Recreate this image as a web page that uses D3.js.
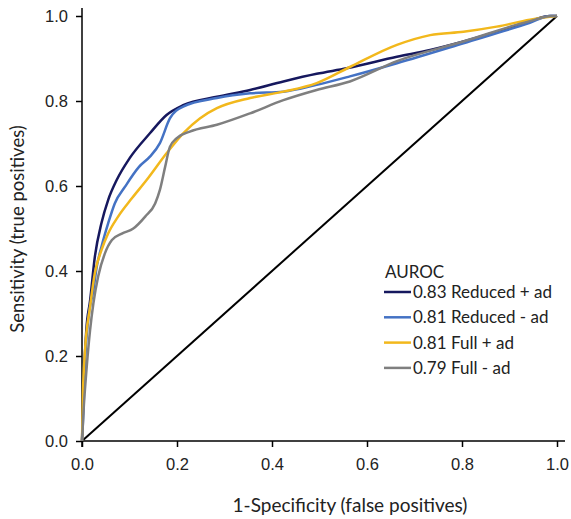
<!DOCTYPE html>
<html>
<head>
<meta charset="utf-8">
<script src="https://cdn.jsdelivr.net/npm/d3@7"></script>
<style>
  html, body { margin: 0; padding: 0; background: #fff; }
  svg { display: block; font-family: Lato, "Open Sans", sans-serif; }
</style>
</head>
<body>
<svg id="chart" width="571" height="519"></svg>
<script>
// ---- data ----
const xTicks = [0, 0.2, 0.4, 0.6, 0.8, 1.0];
const yTicks = [0, 0.2, 0.4, 0.6, 0.8, 1.0];

const seriesNames = ["0.83 Reduced + ad", "0.81 Reduced - ad", "0.81 Full + ad", "0.79 Full - ad"];
const seriesColors = ["#16185E", "#4472C4", "#F2B81C", "#7F7F7F"];

const fprReducedPlus = [0, 0.004, 0.009, 0.017, 0.027, 0.041, 0.055, 0.073, 0.10, 0.143, 0.178, 0.213, 0.284, 0.354, 0.424, 0.494, 0.557, 0.663, 0.733, 0.803, 0.873, 0.943, 0.985, 1.0];
const tprReducedPlus = [0, 0.15, 0.26, 0.33, 0.433, 0.513, 0.567, 0.614, 0.665, 0.724, 0.767, 0.79, 0.81, 0.826, 0.846, 0.864, 0.877, 0.904, 0.92, 0.94, 0.963, 0.988, 1.0, 1.0];

const fprReducedMinus = [0, 0.003, 0.006, 0.013, 0.024, 0.031, 0.041, 0.055, 0.069, 0.091, 0.12, 0.143, 0.164, 0.185, 0.213, 0.284, 0.354, 0.424, 0.494, 0.564, 0.663, 0.803, 0.943, 0.985, 1.0];
const tprReducedMinus = [0, 0.07, 0.175, 0.285, 0.355, 0.41, 0.457, 0.512, 0.559, 0.599, 0.645, 0.669, 0.701, 0.759, 0.787, 0.807, 0.818, 0.822, 0.838, 0.858, 0.889, 0.936, 0.984, 1.0, 1.0];

const fprFullPlus = [0, 0.002, 0.006, 0.017, 0.027, 0.041, 0.055, 0.076, 0.105, 0.136, 0.178, 0.213, 0.248, 0.284, 0.354, 0.424, 0.494, 0.564, 0.663, 0.733, 0.803, 0.873, 0.943, 0.985, 1.0];
const tprFullPlus = [0, 0.113, 0.207, 0.316, 0.395, 0.449, 0.488, 0.528, 0.571, 0.614, 0.677, 0.724, 0.759, 0.783, 0.807, 0.822, 0.842, 0.88, 0.932, 0.955, 0.963, 0.975, 0.991, 0.998, 1.0];

const fprFullMinus = [0, 0.003, 0.01, 0.017, 0.024, 0.034, 0.048, 0.063, 0.084, 0.108, 0.133, 0.154, 0.164, 0.175, 0.185, 0.199, 0.227, 0.284, 0.354, 0.424, 0.494, 0.564, 0.663, 0.803, 0.943, 0.99, 1.0];
const tprFullMinus = [0, 0.066, 0.175, 0.261, 0.324, 0.387, 0.441, 0.473, 0.488, 0.5, 0.528, 0.559, 0.591, 0.645, 0.692, 0.712, 0.728, 0.744, 0.771, 0.802, 0.826, 0.846, 0.894, 0.94, 0.988, 1.0, 1.0];

const fprSeries = [fprReducedPlus, fprReducedMinus, fprFullPlus, fprFullMinus];
const tprSeries = [tprReducedPlus, tprReducedMinus, tprFullPlus, tprFullMinus];

const diagonal = [[0, 0], [1, 1]];

// ---- layout ----
const svg = d3.select("#chart");
const x = d3.scaleLinear().domain([0, 1]).range([82, 557]);
const y = d3.scaleLinear().domain([0, 1]).range([441, 16]);

// axes
const xAxis = d3.axisBottom(x).tickValues(xTicks).tickFormat(d3.format(".1f")).tickSize(6).tickPadding(11);
const yAxis = d3.axisLeft(y).tickValues(yTicks).tickFormat(d3.format(".1f")).tickSize(6).tickPadding(8);

const gx = svg.append("g").attr("transform", `translate(0,${y(0)})`).call(xAxis);
const gy = svg.append("g").attr("transform", `translate(${x(0)},0)`).call(yAxis);
[gx, gy].forEach(g => {
  g.select(".domain").remove();
  g.selectAll(".tick line").attr("stroke", "#000").attr("stroke-width", 1.5);
  g.selectAll(".tick text").attr("fill", "#222").style("font-size", "16.5px");
});
// axis lines (slightly extended like the original)
svg.append("line").attr("x1", x(0)).attr("x2", 565).attr("y1", y(0)).attr("y2", y(0)).attr("stroke", "#000").attr("stroke-width", 1.5);
svg.append("line").attr("x1", x(0)).attr("x2", x(0)).attr("y1", y(0) + 6).attr("y2", 8).attr("stroke", "#000").attr("stroke-width", 1.5);

// diagonal reference
svg.append("line")
  .attr("x1", x(diagonal[0][0])).attr("y1", y(diagonal[0][1]))
  .attr("x2", x(diagonal[1][0])).attr("y2", y(diagonal[1][1]))
  .attr("stroke", "#000").attr("stroke-width", 2);

// ROC curves
const line = d3.line().x(d => x(d[0])).y(d => y(d[1])).curve(d3.curveMonotoneX);
fprSeries.forEach((fpr, i) => {
  const pts = fpr.map((f, j) => [f, tprSeries[i][j]]);
  svg.append("path").datum(pts)
    .attr("d", line)
    .attr("fill", "none")
    .attr("stroke", seriesColors[i])
    .attr("stroke-width", 2.5)
    .attr("stroke-linejoin", "round");
});

// axis titles
svg.append("text").attr("x", 350).attr("y", 512).attr("text-anchor", "middle")
  .style("font-size", "19px").attr("fill", "#222").text("1-Specificity (false positives)");
svg.append("text").attr("transform", "translate(24,229) rotate(-90)").attr("text-anchor", "middle")
  .style("font-size", "18.5px").attr("fill", "#222").text("Sensitivity (true positives)");

// legend
const lg = svg.append("g");
lg.append("text").attr("x", 385).attr("y", 278).style("font-size", "17px").attr("fill", "#222").text("AUROC");
seriesNames.forEach((name, i) => {
  const yy = 292 + i * 25.3;
  lg.append("line").attr("x1", 384).attr("x2", 411).attr("y1", yy).attr("y2", yy)
    .attr("stroke", seriesColors[i]).attr("stroke-width", 2.5);
  lg.append("text").attr("x", 413).attr("y", yy + 6).style("font-size", "17px").attr("fill", "#222").text(name);
});
</script>
</body>
</html>
